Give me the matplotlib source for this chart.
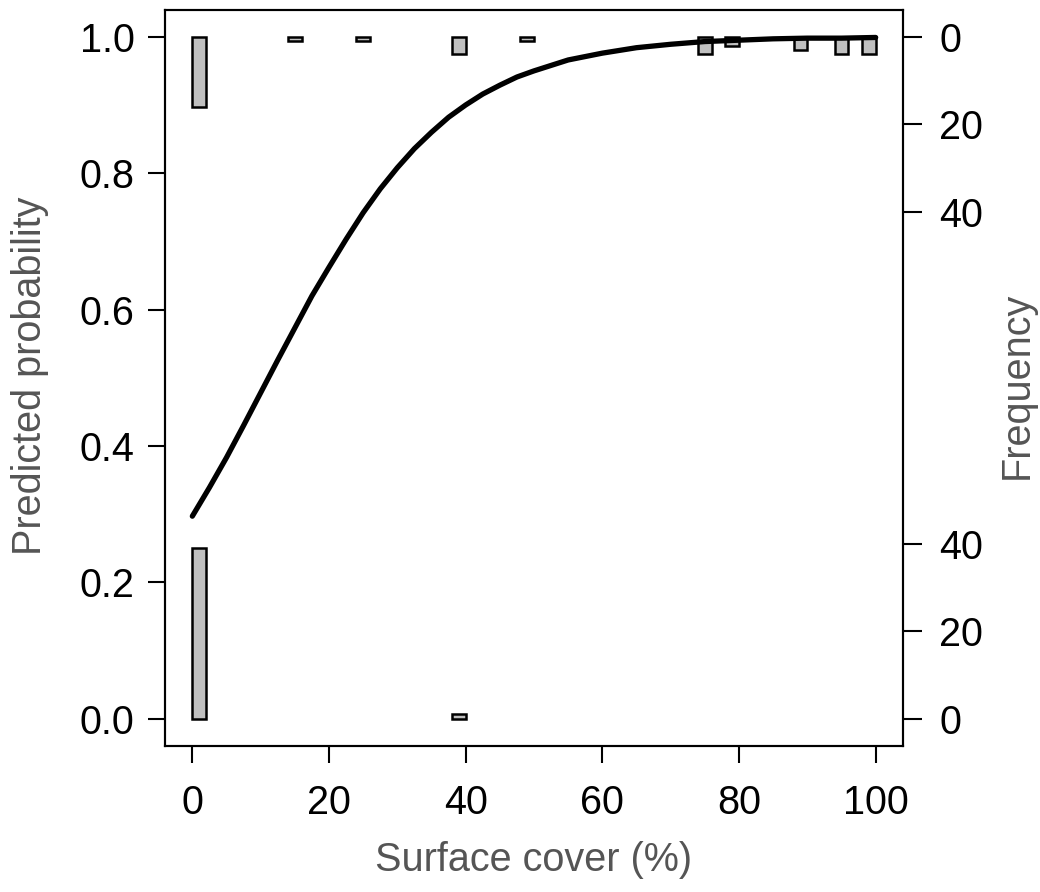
import matplotlib
matplotlib.use("Agg")
import matplotlib.pyplot as plt
import numpy as np

# ---- data ----
# fitted logistic curve
curve_x = [0, 2.5, 5, 7.5, 10, 12.5, 15, 17.5, 20, 22.5, 25, 27.5, 30, 32.5, 35,
           37.5, 40, 42.5, 45, 47.5, 50, 55, 60, 65, 70, 75, 80, 85, 90, 95, 100]
curve_y = [0.297, 0.339, 0.383, 0.430, 0.478, 0.526, 0.573, 0.620, 0.662, 0.703,
           0.742, 0.777, 0.808, 0.836, 0.860, 0.882, 0.900, 0.916, 0.929, 0.941,
           0.950, 0.966, 0.976, 0.984, 0.989, 0.993, 0.995, 0.997, 0.998, 0.998, 0.999]

# histogram of observations with response = 1 (drawn from the top)
top_bin_left = [0, 14, 24, 38, 48, 74, 78, 88, 94, 98]
top_counts = [16, 1, 1, 4, 1, 4, 2, 3, 4, 4]
# histogram of observations with response = 0 (drawn from the bottom)
bot_bin_left = [0, 38]
bot_counts = [39, 1]
bin_width = 2

freq_ticks = [0, 20, 40]
prob_ticks = [0.0, 0.2, 0.4, 0.6, 0.8, 1.0]
x_ticks = [0, 20, 40, 60, 80, 100]

scale = 0.2567 / 40.0  # probability units per count

FONT = ["Liberation Sans", "DejaVu Sans"]
plt.rcParams['font.family'] = FONT
FS = 28.5
GREY = "#555555"

fig = plt.figure(figsize=(10.4, 8.92), dpi=100)
ax = fig.add_axes([165 / 1040, 1 - 746 / 892, (903 - 165) / 1040, (746 - 9.5) / 892])

# bars
ax.bar(top_bin_left, [c * scale for c in top_counts], width=bin_width,
       bottom=[1 - c * scale for c in top_counts], align='edge',
       color="#c0c0c0", edgecolor="black", linewidth=1.8, zorder=2)
ax.bar(bot_bin_left, [c * scale for c in bot_counts], width=bin_width,
       bottom=0, align='edge',
       color="#c0c0c0", edgecolor="black", linewidth=1.8, zorder=2)

# curve
ax.plot(curve_x, curve_y, color="black", linewidth=3.8, solid_capstyle='round', zorder=3)

ax.set_xlim(-4, 104)
ax.set_ylim(-0.04, 1.04)
ax.set_xticks(x_ticks)
ax.set_xticklabels([str(v) for v in x_ticks])
ax.set_yticks(prob_ticks)
ax.set_yticklabels([f"{v:.1f}" for v in prob_ticks])

for s in ax.spines.values():
    s.set_linewidth(1.5)

ax.tick_params(axis='both', direction='out', length=12, width=1.5,
               labelsize=FS, colors='black')
ax.tick_params(axis='x', pad=15)
ax.tick_params(axis='y', pad=10)

ax2 = ax.twinx()
ax2.set_ylim(ax.get_ylim())
r_pos = [1 - f * scale for f in freq_ticks] + [f * scale for f in freq_ticks]
r_lab = [str(f) for f in freq_ticks] + [str(f) for f in freq_ticks]
ax2.set_yticks(r_pos)
ax2.set_yticklabels(r_lab)
ax2.tick_params(axis='y', direction='out', length=14, width=1.5,
                labelsize=FS, pad=12)
for s in ax2.spines.values():
    s.set_linewidth(1.5)

fig.text(30 / 1040, 1 - 376 / 892, "Predicted probability", rotation=90,
         ha='center', va='center', fontsize=FS, color=GREY)
fig.text(1017 / 1040, 1 - 385 / 892, "Frequency", rotation=90,
         ha='center', va='center', fontsize=FS, color=GREY)
fig.text(534 / 1040, 1 - 860 / 892, "Surface cover (%)",
         ha='center', va='center', fontsize=FS, color=GREY)

fig.savefig("out.png", dpi=100)
